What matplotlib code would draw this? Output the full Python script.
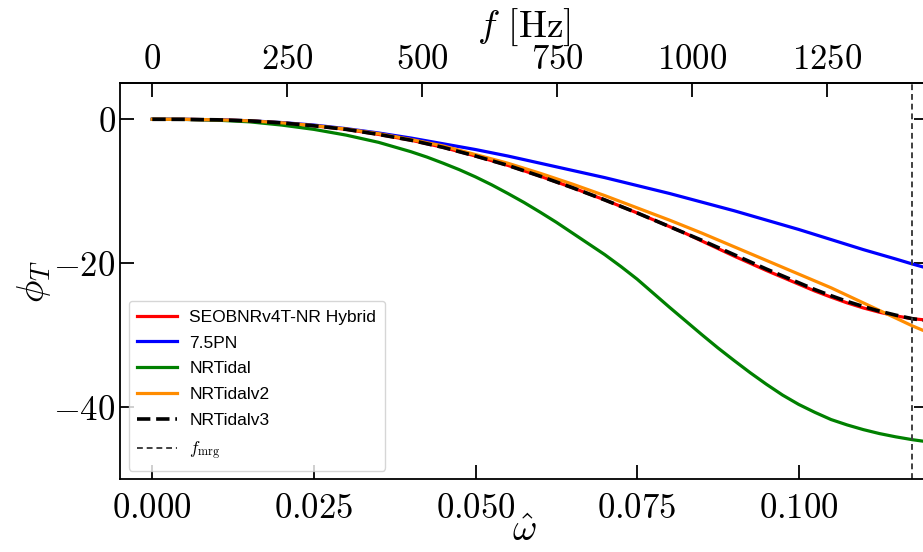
import numpy as np
import matplotlib
matplotlib.use("Agg")
import matplotlib.pyplot as plt

plt.rcParams["font.family"] = "serif"
plt.rcParams["font.serif"] = ["cmr10"]
plt.rcParams["mathtext.fontset"] = "cm"
plt.rcParams["axes.formatter.use_mathtext"] = True

# binary total mass (Msun) and solar mass in seconds, for the f axis
M_TOT = 2.7
MSUN_S = 4.925491e-6

omega = [0.0, 0.005, 0.01, 0.015, 0.02, 0.025, 0.03, 0.035, 0.04, 0.0425,
         0.045, 0.0475, 0.05, 0.0525, 0.055, 0.0575, 0.06, 0.0625, 0.065, 0.0675,
         0.07, 0.0725, 0.075, 0.0775, 0.08, 0.0825, 0.085, 0.0875, 0.09, 0.0925,
         0.095, 0.0975, 0.10, 0.1025, 0.105, 0.1075, 0.11, 0.1125, 0.115, 0.1176,
         0.12]

phi_hybrid = [0.0, -0.01, -0.07, -0.22, -0.5, -0.9, -1.4, -2.1, -2.9, -3.4,
              -3.9, -4.5, -5.1, -5.75, -6.4, -7.15, -7.9, -8.7, -9.5, -10.35,
              -11.2, -12.1, -13.0, -13.95, -14.9, -15.85, -16.9, -17.95, -19.0, -20.0,
              -21.0, -21.95, -22.9, -23.85, -24.7, -25.5, -26.2, -26.8, -27.3, -27.7,
              -27.9]
phi_75pn = [0.0, -0.01, -0.07, -0.2, -0.45, -0.8, -1.3, -1.9, -2.6, -3.0,
            -3.4, -3.8, -4.2, -4.65, -5.1, -5.6, -6.1, -6.6, -7.1, -7.6,
            -8.1, -8.65, -9.2, -9.75, -10.3, -10.9, -11.5, -12.1, -12.7, -13.35,
            -14.0, -14.65, -15.3, -16.0, -16.7, -17.4, -18.1, -18.75, -19.4, -20.1,
            -20.7]
phi_nrtidal = [0.0, -0.02, -0.12, -0.35, -0.8, -1.4, -2.2, -3.2, -4.5, -5.25,
               -6.1, -7.0, -8.0, -9.1, -10.3, -11.55, -12.9, -14.3, -15.8, -17.3,
               -18.8, -20.45, -22.2, -24.15, -26.1, -28.0, -29.9, -31.75, -33.5, -35.2,
               -36.8, -38.3, -39.6, -40.7, -41.7, -42.45, -43.1, -43.65, -44.1, -44.5,
               -44.8]
phi_nrtidalv2 = [0.0, -0.01, -0.07, -0.21, -0.48, -0.87, -1.35, -2.0, -2.8, -3.25,
                 -3.7, -4.3, -4.9, -5.5, -6.1, -6.8, -7.5, -8.25, -9.0, -9.8,
                 -10.6, -11.45, -12.3, -13.15, -14.0, -14.9, -15.8, -16.75, -17.7, -18.65,
                 -19.6, -20.55, -21.5, -22.45, -23.4, -24.45, -25.5, -26.55, -27.6, -28.7,
                 -29.6]
phi_nrtidalv3 = [0.0, -0.01, -0.07, -0.22, -0.5, -0.9, -1.4, -2.1, -2.9, -3.4,
                 -3.9, -4.5, -5.1, -5.75, -6.4, -7.15, -7.9, -8.7, -9.5, -10.35,
                 -11.2, -12.1, -13.0, -13.95, -14.9, -15.85, -16.8, -17.8, -18.8, -19.8,
                 -20.8, -21.75, -22.7, -23.65, -24.5, -25.3, -26.0, -26.65, -27.2, -27.7,
                 -28.0]

omega_mrg = 0.1176
f_ticks = [0, 250, 500, 750, 1000, 1250]


def w2f(w):
    return np.asarray(w) / (2 * np.pi * M_TOT * MSUN_S)


def f2w(f):
    return np.asarray(f) * (2 * np.pi * M_TOT * MSUN_S)


fig = plt.figure(figsize=(9.23, 5.52), dpi=100)
ax = fig.add_axes([0.130, 0.1317, 0.8754, 0.7174])

ax.plot(omega, phi_hybrid, color="red", lw=2.3, label="SEOBNRv4T-NR Hybrid")
ax.plot(omega, phi_75pn, color="blue", lw=2.3, label="7.5PN")
ax.plot(omega, phi_nrtidal, color="green", lw=2.3, label="NRTidal")
ax.plot(omega, phi_nrtidalv2, color="darkorange", lw=2.3, label="NRTidalv2")
ax.plot(omega, phi_nrtidalv3, color="k", lw=2.6, ls="--", label="NRTidalv3")
ax.axvline(omega_mrg, color="0.25", lw=1.4, ls=(0, (3, 2)), label=r"$f_{\rm mrg}$")

ax.set_xlim(-0.005, 0.12)
ax.set_ylim(-50, 5)
ax.set_xticks([0.0, 0.025, 0.05, 0.075, 0.1])
ax.set_yticks([0, -20, -40])
ax.tick_params(axis="both", direction="in", length=10, width=1.3,
               labelsize=25, top=False, right=True)
ax.tick_params(axis="x", pad=10)
ax.tick_params(axis="y", pad=3)
for s in ax.spines.values():
    s.set_linewidth(1.3)

ax.set_xlabel(r"$\hat{\omega}$", fontsize=27, labelpad=-7)
ax.set_ylabel(r"$\phi_T$", fontsize=27, labelpad=0)

secax = ax.secondary_xaxis("top", functions=(w2f, f2w))
secax.set_xticks(f_ticks)
secax.tick_params(direction="in", length=10, width=1.3, labelsize=25, pad=5)
secax.spines["top"].set_linewidth(1.3)
secax.set_xlabel(r"$f$ [Hz]", fontsize=27, labelpad=6)

ax.legend(loc="lower left", prop={"family": "Liberation Sans", "size": 12.5},
          handlelength=2.3, handletextpad=0.7, labelspacing=0.62, borderpad=0.5)

fig.savefig("out.png", dpi=100)
